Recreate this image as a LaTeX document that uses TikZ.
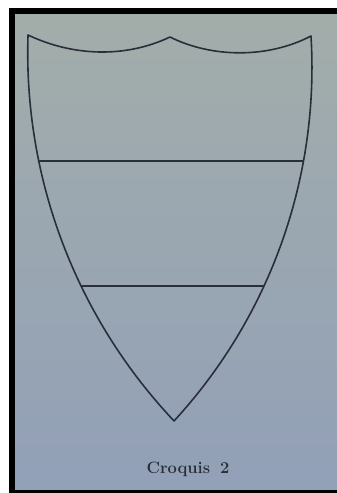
\documentclass[tikz,border=0pt]{standalone}
\usetikzlibrary{calc}
\definecolor{papertop}{RGB}{162,173,170}
\definecolor{paperbot}{RGB}{146,160,184}
\definecolor{ink}{RGB}{42,46,58}
\begin{document}
\begin{tikzpicture}[x=1pt,y=1pt,
  inkline/.style={draw=ink,line width=1.6pt,line join=round},
  caption/.style={text=ink,font=\fontsize{16.5}{18}\selectfont\bfseries,inner sep=0pt}]
\useasboundingbox (0,0) rectangle (337,-493);
\fill[white] (0,0) rectangle (337,-493);
\fill[black] (9,-8) rectangle (337,-493);
\shade[top color=papertop,bottom color=paperbot] (15,-14) rectangle (337,-489);
% shield key points
\coordinate (A) at (28,-35);
\coordinate (P) at (170,-37);
\coordinate (E) at (311,-36);
\coordinate (D) at (174,-421);
\coordinate (L1) at (38.7,-161);
\coordinate (R1) at (303.6,-161);
\coordinate (L2) at (81,-286);
\coordinate (R2) at (264,-286);
% outline
\path[inkline] (A) .. controls (72.9,-56.3) and (125.1,-58.3) .. (P)
  .. controls (212,-58) and (268,-58.5) .. (E)
  arc[start angle=3.46,end angle=-42.63,radius=521.9pt]
  arc[start angle=223.36,end angle=178.08,radius=536pt] -- cycle;
% divisions
\draw[inkline] (L1) -- (R1);
\draw[inkline] (L2) -- (R2);
\node[caption] (cap) at (188,-469) {Croquis\hspace{0.6em}2};
\end{tikzpicture}
\end{document}
